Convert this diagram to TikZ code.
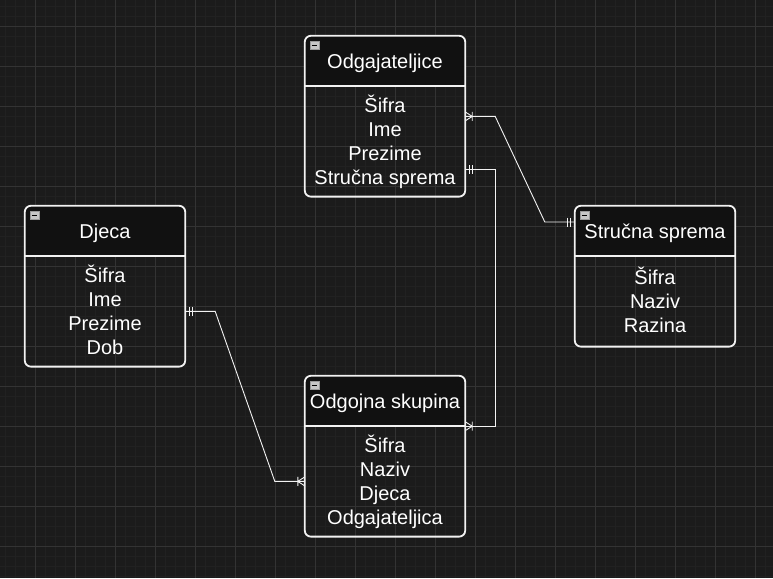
\documentclass[tikz,border=0pt]{standalone}
\usepackage{fontspec}
\setmainfont{Liberation Sans}
\usetikzlibrary{positioning}

\definecolor{canvas}{HTML}{1B1B1B}
\definecolor{gridminor}{HTML}{212121}
\definecolor{gridmajor}{HTML}{333333}
\definecolor{headfill}{HTML}{111111}
\definecolor{edgecol}{HTML}{F2F2F2}

\tikzset{
	head/.style={minimum width=160pt, minimum height=50pt, inner sep=0pt,
		fill=headfill, rounded corners=4pt, text=white,
		font=\fontsize{20}{24}\selectfont, text height=14.4pt, text depth=0pt},
	body/.style={minimum width=160pt, inner sep=0pt, text=white, align=center,
		font=\fontsize{20}{24}\selectfont,
		execute at end node={\rule[-4pt]{0pt}{1pt}}},
	frame/.style={draw=edgecol, line width=1.8pt, rounded corners=6pt},
	minus/.style={minimum width=9pt, minimum height=8pt, inner sep=0pt,
		fill=gray!45, draw=gray!80, line width=0.6pt,
		path picture={\draw[black, line width=1.3pt]
			([xshift=2pt]path picture bounding box.west) --
			([xshift=-2pt]path picture bounding box.east);}},
	rel/.style={draw=edgecol!90, line width=0.9pt},
	one/.pic={\draw[rel] (4pt,-4.5pt) -- (4pt,4.5pt) (7pt,-4.5pt) -- (7pt,4.5pt);},
	many/.pic={\draw[rel] (0pt,-4.5pt) -- (7pt,0pt) -- (0pt,4.5pt)
		(7pt,-4.5pt) -- (7pt,4.5pt);}
}

\begin{document}
\begin{tikzpicture}[x=1pt,y=-1pt]
	\fill[canvas] (0,0) rectangle (773,578);
	\useasboundingbox (0,0) rectangle (773,578);
	
	% grid
	\foreach \x in {5,15,...,765} \draw[gridminor,line width=0.8pt] (\x,0) -- (\x,578);
	\foreach \y in {6,16,...,576} \draw[gridminor,line width=0.8pt] (0,\y) -- (773,\y);
	\foreach \x in {35,75,...,755} \draw[gridmajor,line width=0.8pt] (\x,0) -- (\x,578);
	\foreach \y in {26,66,...,546} \draw[gridmajor,line width=0.8pt] (0,\y) -- (773,\y);
	
	% entities
	\node[head](odgH) at (385,61) {Odgajateljice};
	\node[body,minimum height=110pt](odgB)[below=0pt of odgH]{Šifra\\Ime\\Prezime\\Stručna sprema};
	
	\node[head](djH) at (105,231) {Djeca};
	\node[body,minimum height=110pt](djB)[below=0pt of djH]{Šifra\\Ime\\Prezime\\Dob};
	
	\node[head](strH) at (655,231) {Stručna sprema};
	\node[body,minimum height=90pt](strB)[below=0pt of strH]{Šifra\\Naziv\\Razina};
	
	\node[head](skH) at (385,401) {Odgojna skupina};
	\node[body,minimum height=110pt](skB)[below=0pt of skH]{Šifra\\Naziv\\Djeca\\Odgajateljica};
	
	\foreach \e in {odg,dj,str,sk}{
		\draw[frame] (\e H.north west) rectangle (\e B.south east);
		\draw[frame] (\e H.south west) -- (\e H.south east);
		\node[minus](\e M) at ([xshift=9.5pt,yshift=-9.5pt]\e H.north west) {};
	}
	
	% relations
	\draw[rel] ([yshift=25pt]odgB.east) -- ++(30,0)
		-- ([xshift=-30pt,yshift=9pt]strH.west) -- ([yshift=9pt]strH.west);
	\pic at ([yshift=25pt]odgB.east) {many};
	\pic[rotate=180] at ([yshift=9pt]strH.west) {one};
	
	\draw[rel] ([yshift=-28pt]odgB.east) -- ++(30,0) |- (skH.south east);
	\pic at ([yshift=-28pt]odgB.east) {one};
	\pic at (skH.south east) {many};
	
	\draw[rel] (djB.east) -- ++(30,0) -- ([xshift=-30pt]skB.west) -- (skB.west);
	\pic at (djB.east) {one};
	\pic[rotate=180] at (skB.west) {many};
\end{tikzpicture}
\end{document}
